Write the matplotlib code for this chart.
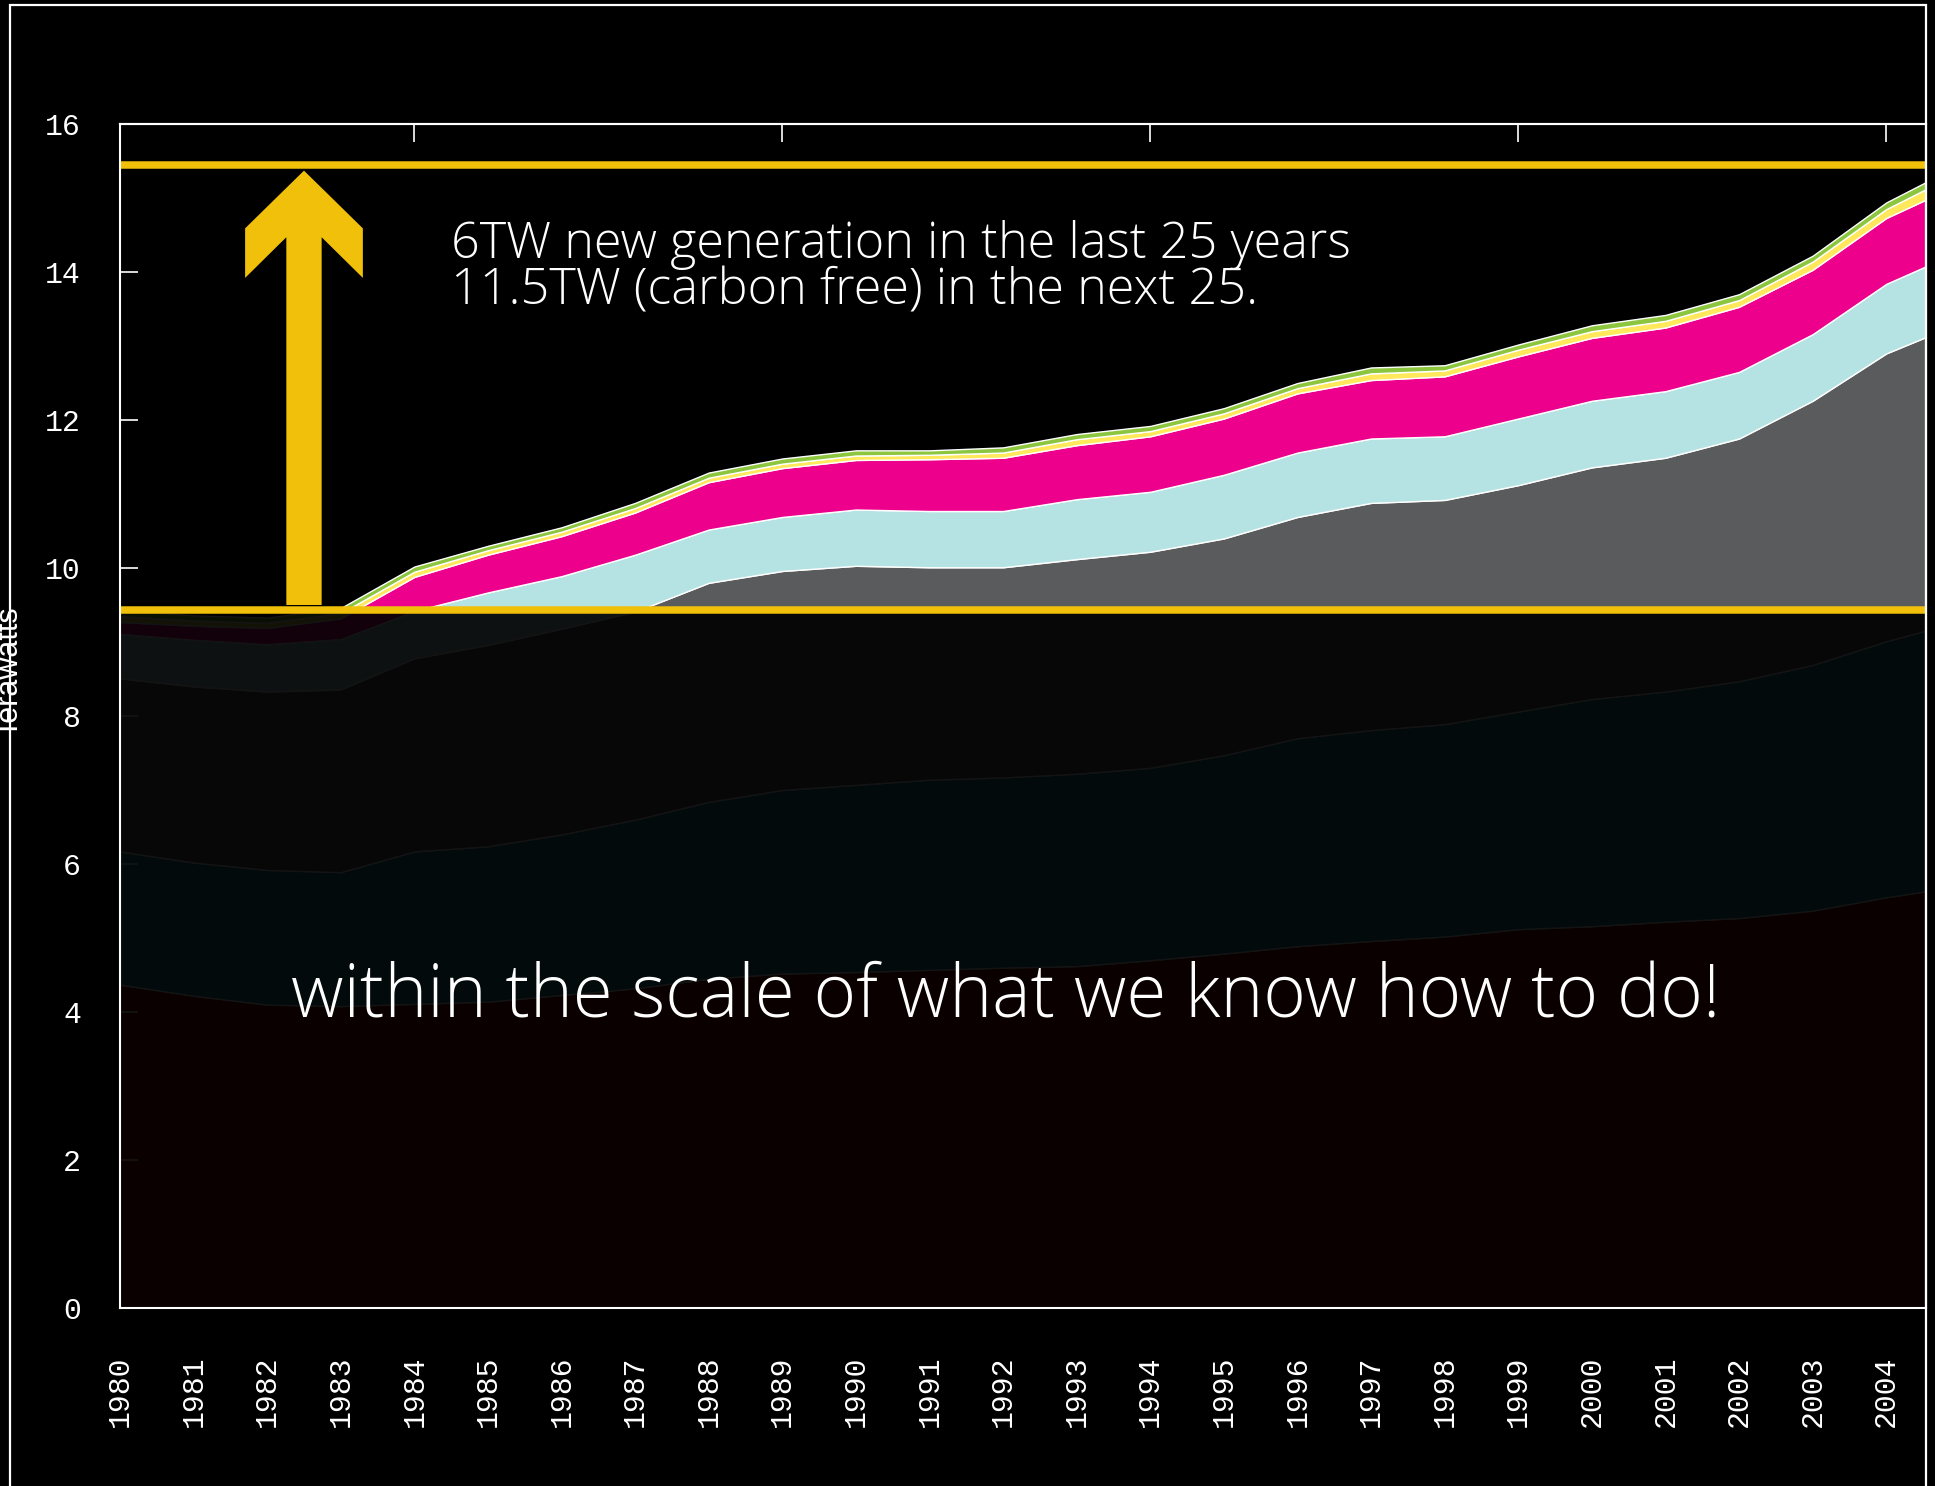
import matplotlib
matplotlib.use("Agg")
import matplotlib.pyplot as plt
import numpy as np
from matplotlib.patches import Polygon, Rectangle

# ---------------- data (terawatts, stacked layers) ----------------
years = list(range(1980, 2006))
layer_red = [4.37, 4.22, 4.10, 4.08, 4.11, 4.14, 4.23, 4.32, 4.45, 4.52, 4.54, 4.57, 4.60,
             4.62, 4.70, 4.79, 4.89, 4.96, 5.02, 5.12, 5.16, 5.22, 5.27, 5.37, 5.55, 5.70]
layer_teal = [1.80, 1.80, 1.82, 1.81, 2.06, 2.10, 2.17, 2.28, 2.39, 2.48, 2.53, 2.57, 2.57,
              2.60, 2.60, 2.68, 2.81, 2.85, 2.87, 2.94, 3.07, 3.11, 3.20, 3.32, 3.46, 3.58]
layer_gray = [2.34, 2.38, 2.41, 2.47, 2.61, 2.72, 2.78, 2.81, 2.96, 2.96, 2.96, 2.87, 2.84,
              2.90, 2.92, 2.93, 2.99, 3.07, 3.03, 3.06, 3.13, 3.16, 3.28, 3.57, 3.89, 4.03]
layer_cyan = [0.60, 0.63, 0.64, 0.68, 0.64, 0.71, 0.71, 0.77, 0.72, 0.73, 0.76, 0.76, 0.76,
              0.81, 0.81, 0.86, 0.87, 0.87, 0.86, 0.90, 0.90, 0.90, 0.90, 0.90, 0.94, 0.97]
layer_magenta = [0.16, 0.19, 0.22, 0.28, 0.46, 0.51, 0.54, 0.57, 0.64, 0.66, 0.67, 0.70, 0.72,
                 0.73, 0.75, 0.76, 0.80, 0.79, 0.81, 0.84, 0.85, 0.86, 0.88, 0.87, 0.89, 0.91]
layer_yellow = [0.08, 0.07, 0.07, 0.07, 0.07, 0.06, 0.06, 0.06, 0.06, 0.06, 0.06, 0.06, 0.07,
                0.08, 0.07, 0.07, 0.07, 0.09, 0.08, 0.09, 0.09, 0.09, 0.09, 0.11, 0.12, 0.16]
layer_green = [0.08, 0.07, 0.07, 0.07, 0.07, 0.06, 0.06, 0.07, 0.07, 0.07, 0.07, 0.06, 0.07,
               0.07, 0.07, 0.07, 0.07, 0.08, 0.07, 0.07, 0.08, 0.08, 0.08, 0.08, 0.09, 0.10]

layer_colors = ["#850000", "#1b85a0", "#5a5b5d", "#b5e2e2", "#ec008c", "#ffe85c", "#8cc63f"]
ytick_values = [0, 2, 4, 6, 8, 10, 12, 14, 16]
xtick_labels = [str(y) for y in range(1980, 2005)]
top_ticks = [1984, 1989, 1994, 1999, 2004]

text_line1 = "6TW new generation in the last 25 years"
text_line2 = "11.5TW (carbon free) in the next 25."
text_big = "within the scale of what we know how to do!"

YELLOW = "#f0c00a"
W, H = 1935, 1486

fig = plt.figure(figsize=(W / 100, H / 100), dpi=100, facecolor="black")
ax = fig.add_axes([120 / W, 1 - 1308 / H, (1926 - 120) / W, (1308 - 124) / H])
ax.set_facecolor("black")

layers = [layer_red, layer_teal, layer_gray, layer_cyan, layer_magenta, layer_yellow, layer_green]
ax.stackplot(years, *layers, colors=layer_colors, edgecolor="white", linewidth=1.0, zorder=1)
total = np.sum(np.array(layers), axis=0)

ax.set_xlim(1980, 2004.54)
ax.set_ylim(0, 16)

# dim everything below the 1980 level
ax.axhspan(0, total[0], facecolor="black", alpha=0.925, lw=0, zorder=3)
ax.axhline(total[0], color=YELLOW, lw=5.4, zorder=4)
ax.axhline(total[-1], color=YELLOW, lw=5.4, zorder=4)

# big arrow (annotation)
cx = 1982.5
shaft_hw, head_hw = 0.24, 0.80
base_y, tip_y = 9.50, 15.37
sh_top, sh_bot, notch = 14.59, 13.92, 14.47
arrow_pts = [(cx, tip_y), (cx + head_hw, sh_top), (cx + head_hw, sh_bot), (cx + shaft_hw, notch),
             (cx + shaft_hw, base_y), (cx - shaft_hw, base_y), (cx - shaft_hw, notch),
             (cx - head_hw, sh_bot), (cx - head_hw, sh_top)]
ax.add_patch(Polygon(arrow_pts, closed=True, facecolor=YELLOW, edgecolor="none", zorder=5))

# ticks
mono = "Liberation Mono"
ax.set_yticks(ytick_values)
ax.set_yticklabels([str(v) for v in ytick_values], fontfamily=mono)
ax.tick_params(axis="y", direction="in", length=13, width=1.2, color="white",
               labelcolor="white", labelsize=21.5, pad=28)
ax.set_xticks(range(1980, 2005))
ax.set_xticklabels(xtick_labels, fontfamily=mono, rotation=90)
ax.tick_params(axis="x", length=0, labelcolor="white", labelsize=21.5, pad=34)

for s in ax.spines.values():
    s.set_color("white")
    s.set_linewidth(1.5)
    s.set_zorder(10)

secax = ax.secondary_xaxis("top")
secax.set_xticks(top_ticks)
secax.tick_params(direction="in", length=13, width=1.2, color="white", labeltop=False)
secax.spines["top"].set_color("white")
secax.spines["top"].set_linewidth(1.5)

# texts
tfont = ["Open Sans", "DejaVu Sans"]
fig.text(451 / W, 1 - 258 / H, text_line1, fontsize=36.3, family=tfont, fontweight="light",
         color="white", va="baseline", ha="left")
fig.text(451 / W, 1 - 305 / H, text_line2, fontsize=36.3, family=tfont, fontweight="light",
         color="white", va="baseline", ha="left")
fig.text(291 / W, 1 - 1017 / H, text_big, fontsize=52.3, family=tfont, fontweight="light",
         color="white", va="baseline", ha="left", zorder=20)

fig.text(24 / W, 1 - 672 / H, "Terawatts", rotation=90, fontsize=22, family="Liberation Sans",
         color="white", ha="right", va="center")

# outer frame
fig.patches.append(Rectangle((10 / W, -0.05), (1926 - 10) / W, 1.05 - 5 / H, transform=fig.transFigure,
                             fill=False, edgecolor="white", lw=1.6, zorder=0))

fig.savefig("out.png", dpi=100, facecolor="black")
